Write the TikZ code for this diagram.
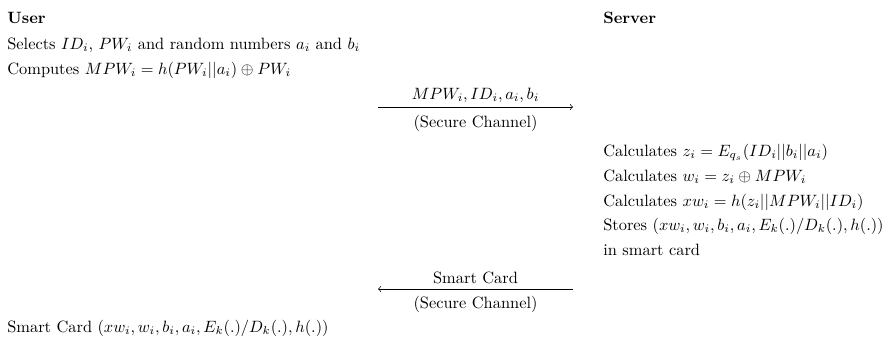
\documentclass[tikz,border=0pt]{standalone}
\begin{document}
\begin{tikzpicture}[x=0.61pt,y=-0.61pt,
  txt/.style={anchor=base west, inner sep=0pt},
  lbl/.style={anchor=base, inner sep=0pt},
  msg/.style={->}]
\useasboundingbox (0,0) rectangle (894,344);
% User column
\node[txt,font=\bfseries] (user) at (7,23) {User};
\node[txt] (u1) at (7,49) {Selects $ID_i$, $PW_i$ and random numbers $a_i$ and $b_i$};
\node[txt] (u2) at (7,74) {Computes $MPW_i = h(PW_i||a_i) \oplus PW_i$};
% Server column
\node[txt,font=\bfseries] (server) at (603,23) {Server};
\node[txt] (s1) at (603,156) {Calculates $z_i = E_{q_s}(ID_i||b_i||a_i)$};
\node[txt] (s2) at (603,181) {Calculates $w_i = z_i \oplus MPW_i$};
\node[txt] (s3) at (603,206) {Calculates $xw_i = h(z_i||MPW_i||ID_i)$};
\node[txt] (s4) at (603,230) {Stores $(xw_i, w_i, b_i, a_i, E_k(.)/D_k(.), h(.))$};
\node[txt] (s5) at (603,255) {in smart card};
% Message 1
\coordinate (m1a) at (378,107);
\coordinate (m1b) at (573,107);
\draw[msg] (m1a) -- (m1b);
\node[lbl] (m1t) at (475.5,99) {$MPW_i, ID_i, a_i, b_i$};
\node[lbl] (m1s) at (475.5,127) {(Secure Channel)};
% Message 2
\coordinate (m2a) at (573,289);
\coordinate (m2b) at (378,289);
\draw[msg] (m2a) -- (m2b);
\node[lbl] (m2t) at (475.5,283) {Smart Card};
\node[lbl] (m2s) at (475.5,308) {(Secure Channel)};
% User result
\node[txt] (u3) at (7,332) {Smart Card $(xw_i, w_i, b_i, a_i, E_k(.)/D_k(.), h(.))$};
\end{tikzpicture}
\end{document}
